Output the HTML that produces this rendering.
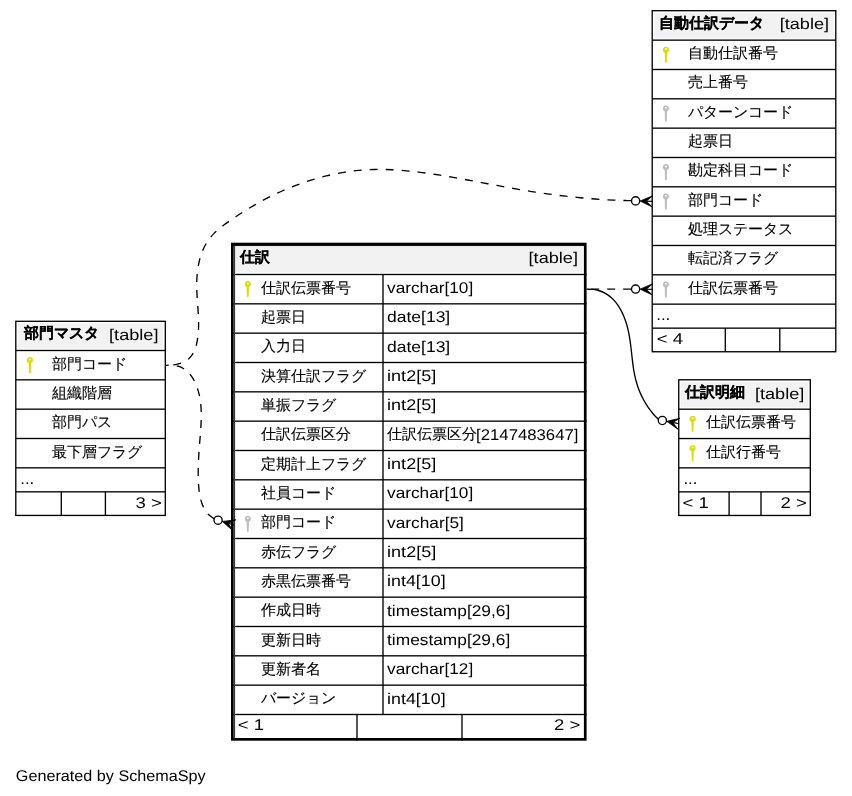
<!DOCTYPE html><html><head><meta charset="utf-8"><style>html,body{margin:0;padding:0;background:#fff;width:852px;height:796px;overflow:hidden}svg{display:block;will-change:transform}.l{font-family:"Liberation Sans",sans-serif;font-size:15.5px;fill:#000;text-rendering:geometricPrecision}.j{font-family:"Liberation Sans",sans-serif;font-size:15.0px;fill:#000;stroke:#000;stroke-width:0.12px}.jb{font-family:"Liberation Sans",sans-serif;font-size:15.0px;font-weight:bold;fill:#000;stroke:#000;stroke-width:0.12px}</style></head><body>
<svg width="852" height="796" viewBox="0 0 852 796">
<rect width="852" height="796" fill="#fff"/>
<rect x="652.20" y="10.70" width="183.60" height="341.05" fill="#fff"/>
<rect x="654.30" y="12.80" width="179.40" height="25.45" fill="#f2f2f2"/>
<rect x="652.20" y="39.48" width="183.60" height="1.33" fill="#000"/>
<rect x="652.20" y="68.82" width="183.60" height="1.33" fill="#000"/>
<rect x="652.20" y="98.15" width="183.60" height="1.33" fill="#000"/>
<rect x="652.20" y="127.48" width="183.60" height="1.33" fill="#000"/>
<rect x="652.20" y="156.82" width="183.60" height="1.33" fill="#000"/>
<rect x="652.20" y="186.15" width="183.60" height="1.33" fill="#000"/>
<rect x="652.20" y="215.48" width="183.60" height="1.33" fill="#000"/>
<rect x="652.20" y="244.81" width="183.60" height="1.33" fill="#000"/>
<rect x="652.20" y="274.15" width="183.60" height="1.33" fill="#000"/>
<rect x="652.20" y="303.48" width="183.60" height="1.33" fill="#000"/>
<rect x="652.20" y="327.48" width="183.60" height="1.33" fill="#000"/>
<rect x="724.63" y="328.15" width="1.33" height="23.60" fill="#000"/>
<rect x="779.13" y="328.15" width="1.33" height="23.60" fill="#000"/>
<rect x="652.20" y="10.70" width="183.60" height="341.05" fill="none" stroke="#000" stroke-width="1.333"/>
<text x="658.60" y="27.80" class="jb">自動仕訳データ</text>
<text x="779.67" y="29.40" textLength="49.39" lengthAdjust="spacingAndGlyphs" class="l">[table]</text>
<text x="688.30" y="58.15" class="j">自動仕訳番号</text>
<path fill="#d6df00" d="M664.75,52.75 A3.1,3.1 0 1 1 667.05,52.75 L667.00,56.87 L666.70,57.47 L666.95,58.27 L666.70,59.47 L666.90,60.27 L666.80,62.47 Q665.90,63.27 665.00,62.47 Z"/><rect x="664.95" y="48.42" width="1.9" height="1.55" fill="#fff"/>
<text x="688.30" y="87.48" class="j">売上番号</text>
<text x="688.30" y="116.82" class="j">パターンコード</text>
<path fill="#bdbdbd" d="M664.75,111.41 A3.1,3.1 0 1 1 667.05,111.41 L667.00,115.53 L666.70,116.13 L666.95,116.93 L666.70,118.13 L666.90,118.93 L666.80,121.13 Q665.90,121.93 665.00,121.13 Z"/><rect x="664.95" y="107.08" width="1.9" height="1.55" fill="#fff"/>
<text x="688.30" y="146.15" class="j">起票日</text>
<text x="688.30" y="175.48" class="j">勘定科目コード</text>
<path fill="#bdbdbd" d="M664.75,170.08 A3.1,3.1 0 1 1 667.05,170.08 L667.00,174.20 L666.70,174.80 L666.95,175.60 L666.70,176.80 L666.90,177.60 L666.80,179.80 Q665.90,180.60 665.00,179.80 Z"/><rect x="664.95" y="165.75" width="1.9" height="1.55" fill="#fff"/>
<text x="688.30" y="204.81" class="j">部門コード</text>
<path fill="#bdbdbd" d="M664.75,199.41 A3.1,3.1 0 1 1 667.05,199.41 L667.00,203.53 L666.70,204.13 L666.95,204.93 L666.70,206.13 L666.90,206.93 L666.80,209.13 Q665.90,209.93 665.00,209.13 Z"/><rect x="664.95" y="195.08" width="1.9" height="1.55" fill="#fff"/>
<text x="688.30" y="234.15" class="j">処理ステータス</text>
<text x="688.30" y="263.48" class="j">転記済フラグ</text>
<text x="688.30" y="292.81" class="j">仕訳伝票番号</text>
<path fill="#bdbdbd" d="M664.75,287.41 A3.1,3.1 0 1 1 667.05,287.41 L667.00,291.53 L666.70,292.13 L666.95,292.93 L666.70,294.13 L666.90,294.93 L666.80,297.13 Q665.90,297.93 665.00,297.13 Z"/><rect x="664.95" y="283.08" width="1.9" height="1.55" fill="#fff"/>
<text x="656.23" y="320.45" textLength="13.99" lengthAdjust="spacingAndGlyphs" class="l">...</text>
<text x="656.85" y="343.95" textLength="26.28" lengthAdjust="spacingAndGlyphs" class="l">&lt; 4</text>
<rect x="15.80" y="321.30" width="149.50" height="194.13" fill="#fff"/>
<rect x="17.90" y="323.40" width="145.30" height="25.20" fill="#f2f2f2"/>
<rect x="15.80" y="349.83" width="149.50" height="1.33" fill="#000"/>
<rect x="15.80" y="379.17" width="149.50" height="1.33" fill="#000"/>
<rect x="15.80" y="408.50" width="149.50" height="1.33" fill="#000"/>
<rect x="15.80" y="437.83" width="149.50" height="1.33" fill="#000"/>
<rect x="15.80" y="467.17" width="149.50" height="1.33" fill="#000"/>
<rect x="15.80" y="491.17" width="149.50" height="1.33" fill="#000"/>
<rect x="60.63" y="491.83" width="1.33" height="23.60" fill="#000"/>
<rect x="104.73" y="491.83" width="1.33" height="23.60" fill="#000"/>
<rect x="15.80" y="321.30" width="149.50" height="194.13" fill="none" stroke="#000" stroke-width="1.333"/>
<text x="23.70" y="338.40" class="jb">部門マスタ</text>
<text x="109.07" y="340.00" textLength="49.39" lengthAdjust="spacingAndGlyphs" class="l">[table]</text>
<text x="52.20" y="368.50" class="j">部門コード</text>
<path fill="#d6df00" d="M28.75,363.10 A3.1,3.1 0 1 1 31.05,363.10 L31.00,367.22 L30.70,367.82 L30.95,368.62 L30.70,369.82 L30.90,370.62 L30.80,372.82 Q29.90,373.62 29.00,372.82 Z"/><rect x="28.95" y="358.77" width="1.9" height="1.55" fill="#fff"/>
<text x="52.20" y="397.83" class="j">組織階層</text>
<text x="52.20" y="427.17" class="j">部門パス</text>
<text x="52.20" y="456.50" class="j">最下層フラグ</text>
<text x="20.23" y="484.13" textLength="13.99" lengthAdjust="spacingAndGlyphs" class="l">...</text>
<text x="135.47" y="507.63" textLength="26.28" lengthAdjust="spacingAndGlyphs" class="l">3 &gt;</text>
<rect x="231.00" y="242.70" width="355.60" height="498.00" fill="#fff"/>
<rect x="235.00" y="246.40" width="347.60" height="26.20" fill="#f2f2f2"/>
<rect x="231.00" y="273.83" width="355.60" height="1.33" fill="#000"/>
<rect x="231.00" y="303.17" width="355.60" height="1.33" fill="#000"/>
<rect x="231.00" y="332.50" width="355.60" height="1.33" fill="#000"/>
<rect x="231.00" y="361.83" width="355.60" height="1.33" fill="#000"/>
<rect x="231.00" y="391.17" width="355.60" height="1.33" fill="#000"/>
<rect x="231.00" y="420.50" width="355.60" height="1.33" fill="#000"/>
<rect x="231.00" y="449.83" width="355.60" height="1.33" fill="#000"/>
<rect x="231.00" y="479.16" width="355.60" height="1.33" fill="#000"/>
<rect x="231.00" y="508.50" width="355.60" height="1.33" fill="#000"/>
<rect x="231.00" y="537.83" width="355.60" height="1.33" fill="#000"/>
<rect x="231.00" y="567.16" width="355.60" height="1.33" fill="#000"/>
<rect x="231.00" y="596.50" width="355.60" height="1.33" fill="#000"/>
<rect x="231.00" y="625.83" width="355.60" height="1.33" fill="#000"/>
<rect x="231.00" y="655.16" width="355.60" height="1.33" fill="#000"/>
<rect x="231.00" y="684.50" width="355.60" height="1.33" fill="#000"/>
<rect x="231.00" y="713.83" width="355.60" height="1.33" fill="#000"/>
<rect x="382.33" y="274.50" width="1.33" height="440.00" fill="#000"/>
<rect x="356.33" y="714.50" width="1.33" height="26.20" fill="#000"/>
<rect x="461.33" y="714.50" width="1.33" height="26.20" fill="#000"/>
<rect x="232.35" y="244.05" width="352.90" height="495.30" fill="none" stroke="#000" stroke-width="2.7"/>
<rect x="233.70" y="244.70" width="1.40" height="494.00" fill="#3a3a3a"/>
<rect x="233.00" y="245.15" width="351.60" height="0.90" fill="#000"/>
<text x="240.30" y="261.70" class="jb">仕訳</text>
<text x="528.57" y="263.30" textLength="49.39" lengthAdjust="spacingAndGlyphs" class="l">[table]</text>
<text x="261.20" y="292.50" class="j">仕訳伝票番号</text>
<path fill="#d6df00" d="M246.65,287.10 A3.1,3.1 0 1 1 248.95,287.10 L248.90,291.22 L248.60,291.82 L248.85,292.62 L248.60,293.82 L248.80,294.62 L248.70,296.82 Q247.80,297.62 246.90,296.82 Z"/><rect x="246.85" y="282.77" width="1.9" height="1.55" fill="#fff"/>
<text x="387.05" y="292.90" textLength="86.18" lengthAdjust="spacingAndGlyphs" class="l">varchar[10]</text>
<text x="261.20" y="321.83" class="j">起票日</text>
<text x="387.05" y="322.23" textLength="63.18" lengthAdjust="spacingAndGlyphs" class="l">date[13]</text>
<text x="261.20" y="351.17" class="j">入力日</text>
<text x="387.05" y="351.57" textLength="63.18" lengthAdjust="spacingAndGlyphs" class="l">date[13]</text>
<text x="261.20" y="380.50" class="j">決算仕訳フラグ</text>
<text x="387.05" y="380.90" textLength="49.23" lengthAdjust="spacingAndGlyphs" class="l">int2[5]</text>
<text x="261.20" y="409.83" class="j">単振フラグ</text>
<text x="387.05" y="410.23" textLength="49.23" lengthAdjust="spacingAndGlyphs" class="l">int2[5]</text>
<text x="261.20" y="439.16" class="j">仕訳伝票区分</text>
<text x="387.45" y="439.16" class="j">仕訳伝票区分</text>
<text x="476.14" y="439.56" textLength="102.3" lengthAdjust="spacingAndGlyphs" class="l">[2147483647]</text>
<text x="261.20" y="468.50" class="j">定期計上フラグ</text>
<text x="387.05" y="468.90" textLength="49.23" lengthAdjust="spacingAndGlyphs" class="l">int2[5]</text>
<text x="261.20" y="497.83" class="j">社員コード</text>
<text x="387.05" y="498.23" textLength="86.18" lengthAdjust="spacingAndGlyphs" class="l">varchar[10]</text>
<text x="261.20" y="527.16" class="j">部門コード</text>
<path fill="#bdbdbd" d="M246.65,521.76 A3.1,3.1 0 1 1 248.95,521.76 L248.90,525.88 L248.60,526.48 L248.85,527.28 L248.60,528.48 L248.80,529.28 L248.70,531.48 Q247.80,532.28 246.90,531.48 Z"/><rect x="246.85" y="517.43" width="1.9" height="1.55" fill="#fff"/>
<text x="387.05" y="527.56" textLength="76.85" lengthAdjust="spacingAndGlyphs" class="l">varchar[5]</text>
<text x="261.20" y="556.50" class="j">赤伝フラグ</text>
<text x="387.05" y="556.90" textLength="49.23" lengthAdjust="spacingAndGlyphs" class="l">int2[5]</text>
<text x="261.20" y="585.83" class="j">赤黒伝票番号</text>
<text x="387.05" y="586.23" textLength="58.56" lengthAdjust="spacingAndGlyphs" class="l">int4[10]</text>
<text x="261.20" y="615.16" class="j">作成日時</text>
<text x="387.05" y="615.56" textLength="123.21" lengthAdjust="spacingAndGlyphs" class="l">timestamp[29,6]</text>
<text x="261.20" y="644.50" class="j">更新日時</text>
<text x="387.05" y="644.90" textLength="123.21" lengthAdjust="spacingAndGlyphs" class="l">timestamp[29,6]</text>
<text x="261.20" y="673.83" class="j">更新者名</text>
<text x="387.05" y="674.23" textLength="86.18" lengthAdjust="spacingAndGlyphs" class="l">varchar[12]</text>
<text x="261.20" y="703.16" class="j">バージョン</text>
<text x="387.05" y="703.56" textLength="58.56" lengthAdjust="spacingAndGlyphs" class="l">int4[10]</text>
<text x="237.85" y="730.29" textLength="26.28" lengthAdjust="spacingAndGlyphs" class="l">&lt; 1</text>
<text x="554.07" y="730.29" textLength="26.28" lengthAdjust="spacingAndGlyphs" class="l">2 &gt;</text>
<rect x="678.75" y="379.80" width="131.55" height="135.67" fill="#fff"/>
<rect x="680.85" y="381.90" width="127.35" height="25.40" fill="#f2f2f2"/>
<rect x="678.75" y="408.53" width="131.55" height="1.33" fill="#000"/>
<rect x="678.75" y="437.87" width="131.55" height="1.33" fill="#000"/>
<rect x="678.75" y="467.20" width="131.55" height="1.33" fill="#000"/>
<rect x="678.75" y="491.20" width="131.55" height="1.33" fill="#000"/>
<rect x="728.43" y="491.87" width="1.33" height="23.60" fill="#000"/>
<rect x="760.33" y="491.87" width="1.33" height="23.60" fill="#000"/>
<rect x="678.75" y="379.80" width="131.55" height="135.67" fill="none" stroke="#000" stroke-width="1.333"/>
<text x="685.20" y="396.90" class="jb">仕訳明細</text>
<text x="754.97" y="398.50" textLength="49.39" lengthAdjust="spacingAndGlyphs" class="l">[table]</text>
<text x="705.70" y="427.20" class="j">仕訳伝票番号</text>
<path fill="#d6df00" d="M691.45,421.80 A3.1,3.1 0 1 1 693.75,421.80 L693.70,425.92 L693.40,426.52 L693.65,427.32 L693.40,428.52 L693.60,429.32 L693.50,431.52 Q692.60,432.32 691.70,431.52 Z"/><rect x="691.65" y="417.47" width="1.9" height="1.55" fill="#fff"/>
<text x="705.70" y="456.53" class="j">仕訳行番号</text>
<path fill="#d6df00" d="M691.45,451.13 A3.1,3.1 0 1 1 693.75,451.13 L693.70,455.25 L693.40,455.85 L693.65,456.65 L693.40,457.85 L693.60,458.65 L693.50,460.85 Q692.60,461.65 691.70,460.85 Z"/><rect x="691.65" y="446.80" width="1.9" height="1.55" fill="#fff"/>
<text x="683.43" y="484.17" textLength="13.99" lengthAdjust="spacingAndGlyphs" class="l">...</text>
<text x="682.55" y="507.67" textLength="26.28" lengthAdjust="spacingAndGlyphs" class="l">&lt; 1</text>
<text x="780.57" y="507.67" textLength="26.28" lengthAdjust="spacingAndGlyphs" class="l">2 &gt;</text>
<g fill="none" stroke="#000" stroke-width="1.333">
<path d="M631.40,200.70C630.39,200.67 627.37,200.59 625.36,200.53C623.35,200.47 621.35,200.41 619.34,200.34C617.33,200.27 615.32,200.18 613.31,200.09C611.30,200.00 609.29,199.90 607.28,199.79C605.27,199.67 603.26,199.55 601.25,199.42C599.24,199.29 597.23,199.15 595.22,199.00C593.22,198.86 591.21,198.70 589.20,198.53C587.19,198.36 585.18,198.19 583.17,198.01C581.16,197.82 579.16,197.63 577.15,197.43C575.14,197.23 573.14,197.02 571.13,196.80C569.12,196.58 567.12,196.36 565.12,196.13C563.11,195.89 561.11,195.65 559.11,195.40C557.10,195.15 555.10,194.90 553.10,194.64C551.10,194.37 549.10,194.10 547.11,193.82C545.11,193.55 543.11,193.26 541.12,192.97C539.12,192.68 537.13,192.38 535.14,192.07C533.14,191.77 531.15,191.46 529.16,191.14C527.18,190.82 525.19,190.49 523.20,190.16C521.22,189.83 519.23,189.50 517.25,189.15C515.27,188.81 513.29,188.46 511.31,188.11C509.33,187.76 507.35,187.40 505.38,187.04C503.40,186.68 501.42,186.32 499.45,185.95C497.47,185.59 495.50,185.22 493.52,184.85C491.55,184.48 489.58,184.11 487.60,183.74C485.63,183.37 483.66,182.99 481.68,182.62C479.71,182.25 477.73,181.88 475.76,181.51C473.79,181.14 471.81,180.77 469.84,180.40C467.86,180.04 465.88,179.67 463.91,179.31C461.93,178.95 459.95,178.60 457.97,178.24C455.99,177.89 454.01,177.54 452.03,177.20C450.04,176.86 448.06,176.52 446.07,176.19C444.09,175.86 442.10,175.53 440.11,175.21C438.12,174.90 436.13,174.58 434.13,174.28C432.13,173.98 430.14,173.68 428.14,173.40C426.14,173.12 424.13,172.84 422.13,172.58C420.12,172.31 418.12,172.06 416.11,171.82C414.10,171.58 412.09,171.36 410.08,171.15C408.06,170.94 406.05,170.74 404.04,170.57C402.02,170.39 400.01,170.23 397.99,170.09C395.98,169.95 393.97,169.83 391.95,169.73C389.94,169.63 387.92,169.56 385.91,169.50C383.89,169.45 381.88,169.42 379.87,169.42C377.86,169.41 375.84,169.43 373.83,169.48C371.83,169.53 369.82,169.61 367.81,169.71C365.80,169.82 363.80,169.95 361.80,170.11C359.80,170.27 357.80,170.46 355.80,170.68C353.81,170.90 351.81,171.14 349.82,171.42C347.83,171.69 345.84,171.99 343.86,172.31C341.88,172.64 339.90,172.99 337.93,173.36C335.95,173.74 333.98,174.14 332.02,174.57C330.05,175.00 328.09,175.45 326.14,175.93C324.18,176.41 322.23,176.91 320.29,177.43C318.34,177.96 316.41,178.51 314.48,179.08C312.54,179.65 310.62,180.25 308.70,180.86C306.78,181.48 304.87,182.12 302.97,182.78C301.06,183.45 299.16,184.13 297.27,184.84C295.39,185.54 293.50,186.27 291.63,187.02C289.76,187.76 287.89,188.53 286.04,189.32C284.18,190.11 282.33,190.92 280.49,191.74C278.66,192.57 276.83,193.42 275.01,194.29C273.19,195.15 271.38,196.04 269.58,196.94C267.78,197.84 265.99,198.77 264.21,199.71C262.43,200.64 260.66,201.60 258.91,202.58C257.15,203.55 255.40,204.54 253.67,205.55C251.93,206.56 250.21,207.58 248.50,208.62C246.78,209.66 245.08,210.72 243.38,211.79C241.68,212.87 239.99,213.96 238.31,215.06C236.62,216.17 234.94,217.30 233.27,218.44C231.59,219.58 229.92,220.73 228.26,221.91C226.60,223.09 224.92,224.27 223.30,225.50C221.68,226.73 220.07,227.98 218.53,229.29C217.00,230.60 215.49,231.94 214.09,233.35C212.69,234.77 211.35,236.23 210.12,237.78C208.90,239.32 207.77,240.94 206.73,242.61C205.70,244.29 204.76,246.03 203.91,247.82C203.06,249.61 202.30,251.46 201.62,253.34C200.94,255.22 200.34,257.15 199.81,259.10C199.29,261.05 198.84,263.04 198.46,265.04C198.08,267.04 197.77,269.07 197.52,271.11C197.27,273.14 197.09,275.19 196.96,277.23C196.82,279.27 196.76,281.32 196.73,283.35C196.70,285.39 196.73,287.41 196.79,289.43C196.84,291.45 196.94,293.46 197.05,295.47C197.16,297.48 197.31,299.48 197.45,301.48C197.58,303.47 197.74,305.47 197.88,307.46C198.02,309.46 198.16,311.45 198.27,313.44C198.38,315.43 198.48,317.43 198.54,319.42C198.59,321.42 198.63,323.41 198.60,325.42C198.57,327.42 198.50,329.42 198.36,331.43C198.23,333.45 198.04,335.47 197.76,337.49C197.48,339.51 197.15,341.57 196.68,343.55C196.21,345.53 195.66,347.53 194.92,349.37C194.19,351.21 193.34,353.02 192.26,354.61C191.19,356.21 189.94,357.70 188.46,358.94C186.98,360.19 185.23,361.24 183.40,362.10C181.56,362.96 179.49,363.60 177.46,364.10C175.43,364.59 173.25,364.88 171.22,365.06C169.19,365.25 166.29,365.18 165.30,365.20" stroke-dasharray="8,8"/>
<path d="M214.20,518.80C213.35,518.18 210.59,516.49 209.11,515.08C207.62,513.67 206.39,512.03 205.29,510.36C204.20,508.68 203.31,506.88 202.53,505.02C201.75,503.17 201.16,501.21 200.64,499.22C200.12,497.24 199.75,495.18 199.44,493.12C199.12,491.05 198.92,488.94 198.74,486.85C198.56,484.76 198.46,482.66 198.37,480.58C198.28,478.50 198.23,476.44 198.21,474.37C198.19,472.31 198.20,470.26 198.24,468.22C198.27,466.17 198.34,464.13 198.42,462.09C198.50,460.05 198.61,458.01 198.73,455.97C198.84,453.93 198.98,451.90 199.13,449.85C199.27,447.81 199.43,445.76 199.59,443.71C199.76,441.65 199.93,439.59 200.10,437.52C200.26,435.45 200.44,433.36 200.59,431.28C200.74,429.20 200.88,427.11 200.99,425.03C201.10,422.94 201.19,420.85 201.23,418.77C201.28,416.69 201.29,414.60 201.24,412.53C201.19,410.46 201.10,408.39 200.93,406.34C200.77,404.29 200.55,402.24 200.24,400.22C199.93,398.19 199.56,396.17 199.08,394.18C198.61,392.18 198.06,390.20 197.39,388.25C196.72,386.30 195.97,384.35 195.08,382.50C194.20,380.65 193.21,378.82 192.09,377.15C190.96,375.47 189.71,373.87 188.32,372.47C186.92,371.07 185.38,369.79 183.69,368.75C182.01,367.71 180.15,366.83 178.19,366.23C176.22,365.62 174.06,365.23 171.92,365.09C169.77,364.96 166.40,365.35 165.30,365.40" stroke-dasharray="8,8"/>
<path d="M631.2,289.15 L586.6,289.15" stroke-dasharray="8,8"/>
<path d="M658.40,419.30C657.68,418.58 655.46,416.48 654.10,414.96C652.73,413.44 651.45,411.83 650.22,410.18C648.99,408.53 647.81,406.83 646.70,405.08C645.59,403.34 644.53,401.54 643.55,399.72C642.57,397.90 641.64,396.03 640.79,394.14C639.94,392.25 639.15,390.33 638.44,388.40C637.73,386.46 637.09,384.50 636.51,382.53C635.94,380.56 635.45,378.58 635.01,376.59C634.56,374.60 634.19,372.60 633.85,370.59C633.50,368.58 633.22,366.56 632.94,364.54C632.67,362.52 632.44,360.49 632.20,358.46C631.96,356.42 631.75,354.39 631.52,352.35C631.29,350.31 631.07,348.26 630.81,346.22C630.56,344.18 630.30,342.13 629.99,340.09C629.67,338.05 629.34,336.01 628.94,333.97C628.54,331.93 628.11,329.89 627.59,327.87C627.07,325.84 626.50,323.81 625.85,321.82C625.19,319.82 624.47,317.84 623.67,315.92C622.86,314.00 621.98,312.11 621.01,310.31C620.04,308.50 618.99,306.75 617.84,305.10C616.70,303.45 615.46,301.87 614.13,300.42C612.79,298.96 611.36,297.60 609.83,296.38C608.29,295.17 606.65,294.06 604.90,293.12C603.15,292.18 601.30,291.38 599.32,290.76C597.34,290.14 595.16,289.67 593.04,289.41C590.92,289.15 587.67,289.24 586.60,289.20"/>
</g>
<path d="M640.11,201.03 L652.67,195.80 L646.30,201.21 L652.50,201.40 L646.30,201.21 L652.33,207.00 L640.11,201.03Z" fill="#000" stroke="#000" stroke-width="0.8" stroke-linejoin="miter" stroke-miterlimit="10"/>
<circle cx="635.61" cy="200.89" r="4.1" fill="#fff" stroke="#000" stroke-width="1.333"/>
<path d="M640.10,289.15 L652.61,283.80 L646.30,289.28 L652.50,289.40 L646.30,289.28 L652.39,295.00 L640.10,289.15Z" fill="#000" stroke="#000" stroke-width="0.8" stroke-linejoin="miter" stroke-miterlimit="10"/>
<circle cx="635.60" cy="289.06" r="4.1" fill="#fff" stroke="#000" stroke-width="1.333"/>
<path d="M666.78,421.34 L680.02,418.20 L672.86,422.52 L678.95,423.70 L672.86,422.52 L677.88,429.20 L666.78,421.34Z" fill="#000" stroke="#000" stroke-width="0.8" stroke-linejoin="miter" stroke-miterlimit="10"/>
<circle cx="662.36" cy="420.48" r="4.1" fill="#fff" stroke="#000" stroke-width="1.333"/>
<path d="M222.39,521.47 L235.89,519.75 L228.32,523.28 L234.25,525.10 L228.32,523.28 L232.61,530.45 L222.39,521.47Z" fill="#000" stroke="#000" stroke-width="0.8" stroke-linejoin="miter" stroke-miterlimit="10"/>
<circle cx="218.09" cy="520.15" r="4.1" fill="#fff" stroke="#000" stroke-width="1.333"/>
<text x="15.88" y="781.20" textLength="189.79" lengthAdjust="spacingAndGlyphs" class="l">Generated by SchemaSpy</text>
</svg></body></html>
